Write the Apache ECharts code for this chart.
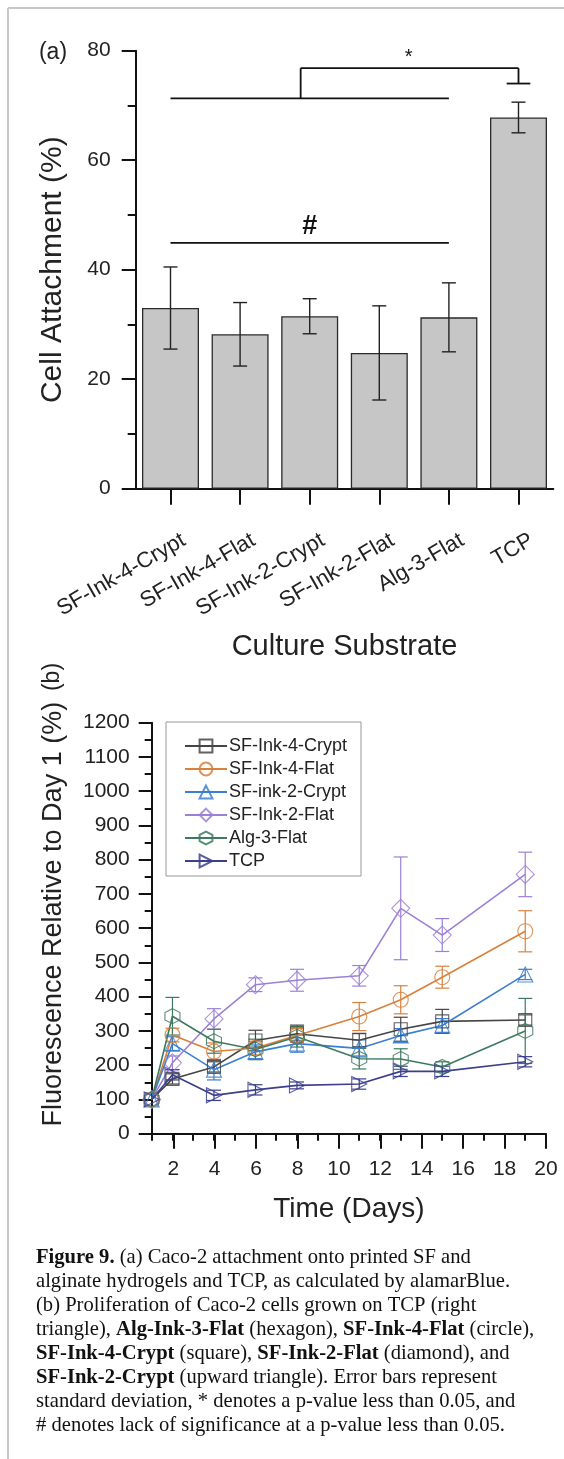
<!DOCTYPE html>
<html>
<head>
<meta charset="utf-8">
<script src="https://cdn.jsdelivr.net/npm/echarts@6/dist/echarts.min.js"></script>
<style>
  html, body { margin: 0; padding: 0; background: #fff; }
  #main { width: 564px; height: 1459px; }
</style>
</head>
<body>
<div id="main"></div>
<script>
// panel (a) - cell attachment
var substrates = ['SF-Ink-4-Crypt', 'SF-Ink-4-Flat', 'SF-Ink-2-Crypt', 'SF-Ink-2-Flat', 'Alg-3-Flat', 'TCP'];
var attachment = [33.0, 28.2, 31.5, 24.8, 31.3, 67.8];
var attachmentSd = [7.5, 5.8, 3.2, 8.6, 6.3, 2.8];
var attachTicks = [0, 20, 40, 60, 80];

// significance brackets: [cat1, val1, cat2, val2]
var sigSegments = [
  [0, 71.3, 4, 71.3],
  [1.87, 71.3, 1.87, 76.8],
  [1.87, 76.8, 5, 76.8],
  [5, 76.8, 5, 74.0],
  [4.83, 74.0, 5.17, 74.0],
  [0, 44.9, 4, 44.9]
];
var sigMarks = [['*', 3.42, 78.8], ['#', 2.0, 47.9]];

// panel (b) - proliferation
var days = [1, 2, 4, 6, 8, 11, 13, 15, 19];
var sfInk4Crypt = [100, 160, 195, 272, 292, 273, 305, 328, 332];
var sfInk4CryptSd = [0, 15, 15, 30, 25, 20, 35, 35, 15];
var sfInk4Flat = [100, 288, 240, 250, 287, 342, 391, 457, 591];
var sfInk4FlatSd = [0, 20, 25, 20, 20, 41, 41, 32, 60];
var sfInk2Crypt = [100, 263, 187, 239, 263, 249, 287, 316, 465];
var sfInk2CryptSd = [0, 20, 30, 20, 25, 25, 20, 20, 15];
var sfInk2Flat = [100, 207, 335, 435, 448, 461, 658, 580, 757];
var sfInk2FlatSd = [0, 20, 30, 20, 32, 30, 150, 48, 65];
var alg3Flat = [100, 343, 270, 246, 283, 219, 218, 195, 300];
var alg3FlatSd = [0, 55, 35, 30, 30, 30, 30, 15, 95];
var tcp = [100, 172, 112, 128, 141, 145, 182, 182, 210];
var tcpSd = [0, 15, 15, 15, 10, 15, 15, 15, 15];

var captionLines = [
  '{b|Figure 9.} (a) Caco-2 attachment onto printed SF and',
  'alginate hydrogels and TCP, as calculated by alamarBlue.',
  '(b) Proliferation of Caco-2 cells grown on TCP (right',
  'triangle), {b|Alg-Ink-3-Flat} (hexagon), {b|SF-Ink-4-Flat} (circle),',
  '{b|SF-Ink-4-Crypt} (square), {b|SF-Ink-2-Flat} (diamond), and',
  '{b|SF-Ink-2-Crypt} (upward triangle). Error bars represent',
  'standard deviation, * denotes a p-value less than 0.05, and',
  '# denotes lack of significance at a p-value less than 0.05.'
];

var FONT = 'Liberation Sans, Arial, sans-serif';
var SERIF = 'Liberation Serif, Times New Roman, serif';

var hexagon = 'path://M5,0 L9.33,2.5 L9.33,7.5 L5,10 L0.67,7.5 L0.67,2.5 Z';
var rightTri = 'path://M0,0 L10,5 L0,10 Z';

var lines = [
  { name: 'SF-Ink-4-Crypt', v: sfInk4Crypt, sd: sfInk4CryptSd, color: '#454545', symbol: 'rect', size: 13 },
  { name: 'SF-Ink-4-Flat', v: sfInk4Flat, sd: sfInk4FlatSd, color: '#d9803c', symbol: 'circle', size: 15 },
  { name: 'SF-ink-2-Crypt', v: sfInk2Crypt, sd: sfInk2CryptSd, color: '#3b7fcf', symbol: 'triangle', size: 15 },
  { name: 'SF-Ink-2-Flat', v: sfInk2Flat, sd: sfInk2FlatSd, color: '#9b80d6', symbol: 'diamond', size: 18 },
  { name: 'Alg-3-Flat', v: alg3Flat, sd: alg3FlatSd, color: '#3e7a5f', symbol: hexagon, size: 15 },
  { name: 'TCP', v: tcp, sd: tcpSd, color: '#3c3f8e', symbol: rightTri, size: 15 }
];

function errRender(color, cap, width) {
  return function (params, api) {
    var x = api.value(0), y = api.value(1), sd = api.value(2);
    if (!sd) return;
    var hi = api.coord([x, y + sd]);
    var lo = api.coord([x, y - sd]);
    var st = { stroke: color, lineWidth: width };
    return {
      type: 'group',
      children: [
        { type: 'line', shape: { x1: hi[0], y1: hi[1], x2: lo[0], y2: lo[1] }, style: st },
        { type: 'line', shape: { x1: hi[0] - cap, y1: hi[1], x2: hi[0] + cap, y2: hi[1] }, style: st },
        { type: 'line', shape: { x1: lo[0] - cap, y1: lo[1], x2: lo[0] + cap, y2: lo[1] }, style: st }
      ]
    };
  };
}

function sigRender(params, api) {
  function px(c, v) {
    var a = api.coord([0, v]), b = api.coord([1, v]);
    return [a[0] + c * (b[0] - a[0]), a[1]];
  }
  var children = [];
  sigSegments.forEach(function (s) {
    var p1 = px(s[0], s[1]), p2 = px(s[2], s[3]);
    children.push({ type: 'line', shape: { x1: p1[0], y1: p1[1], x2: p2[0], y2: p2[1] },
      style: { stroke: '#111', lineWidth: 1.8 } });
  });
  sigMarks.forEach(function (m) {
    var p = px(m[1], m[2]);
    children.push({ type: 'text', x: p[0], y: p[1],
      style: { text: m[0], fill: '#111', font: (m[0] === '#' ? 'bold 27px ' : '20px ') + FONT,
        align: 'center', verticalAlign: 'middle' } });
  });
  return { type: 'group', children: children };
}

var series = [];
series.push({
  type: 'bar', xAxisIndex: 0, yAxisIndex: 0, data: attachment, barWidth: 57,
  itemStyle: { color: '#c6c6c6', borderColor: '#2a2a2a', borderWidth: 1.3 },
  z: 2
});
series.push({
  type: 'custom', xAxisIndex: 0, yAxisIndex: 0,
  data: attachment.map(function (v, i) { return [i, v, attachmentSd[i]]; }),
  renderItem: errRender('#222', 7, 1.4), z: 3
});
series.push({
  type: 'custom', xAxisIndex: 0, yAxisIndex: 0, data: [[0, 0]],
  renderItem: sigRender, z: 3
});

lines.forEach(function (s) {
  series.push({
    type: 'custom', xAxisIndex: 1, yAxisIndex: 1,
    data: days.map(function (d, i) { return [d, s.v[i], s.sd[i]]; }),
    renderItem: errRender(s.color, 7, 1.2), z: 2
  });
});
lines.forEach(function (s) {
  series.push({
    name: s.name, type: 'line', xAxisIndex: 1, yAxisIndex: 1,
    data: days.map(function (d, i) { return [d, s.v[i]]; }),
    symbol: s.symbol, symbolSize: s.size, showAllSymbol: true,
    lineStyle: { color: s.color, width: 1.6 },
    itemStyle: { color: 'rgba(255,255,255,0)', borderColor: s.color, borderWidth: 1.1, opacity: 0.85 },
    z: 3
  });
});

var axisLineStyle = { show: true, lineStyle: { color: '#111', width: 2 } };
var tickStyle = { lineStyle: { color: '#111', width: 2 } };
var plain = function (v) { return String(v); };

var graphics = [
  { type: 'line', shape: { x1: 8, y1: 8, x2: 564, y2: 8 }, style: { stroke: '#c8c8c8', lineWidth: 2 } },
  { type: 'line', shape: { x1: 8, y1: 8, x2: 8, y2: 1459 }, style: { stroke: '#c8c8c8', lineWidth: 2 } },
  { type: 'text', x: 53, y: 53, style: { text: '(a)', font: '23px ' + FONT, fill: '#222', align: 'center', verticalAlign: 'middle' } },
  { type: 'text', x: 53, y: 677, rotation: Math.PI / 2, style: { text: '(b)', font: '23px ' + FONT, fill: '#222', align: 'center', verticalAlign: 'middle' } }
];
captionLines.forEach(function (t, i) {
  graphics.push({
    type: 'text', left: 36, top: 1247 + i * 24.05,
    style: {
      text: t, font: '20.6px ' + SERIF, fill: '#111',
      rich: { b: { fontFamily: SERIF, fontSize: 20.6, fontWeight: 'bold', fill: '#111' } }
    }
  });
});

var chart = echarts.init(document.getElementById('main'), null, { renderer: 'canvas' });
chart.setOption({
  backgroundColor: '#ffffff',
  animation: false,
  textStyle: { fontFamily: FONT },
  grid: [
    { left: 135.7, top: 50.7, width: 417.6, height: 438 },
    { left: 151.7, top: 722.7, width: 394.3, height: 411 },
    { left: 173.3, top: 722.7, width: 372.7, height: 411 }
  ],
  xAxis: [
    {
      gridIndex: 0, type: 'category', data: substrates,
      name: 'Culture Substrate', nameLocation: 'middle', nameGap: 144,
      nameTextStyle: { fontSize: 29, color: '#222', fontFamily: FONT },
      axisLine: axisLineStyle,
      axisTick: { show: true, alignWithLabel: true, length: 16, lineStyle: tickStyle.lineStyle },
      axisLabel: { rotate: 30, fontSize: 22, color: '#222', margin: 45, interval: 0,
        verticalAlign: 'top', padding: [0, -9, 0, 0] }
    },
    {
      gridIndex: 1, type: 'value', min: 1, max: 20, interval: 1,
      name: 'Time (Days)', nameLocation: 'middle', nameGap: 62,
      nameTextStyle: { fontSize: 28, color: '#222', fontFamily: FONT },
      axisLine: axisLineStyle,
      axisTick: { show: true, length: 7, lineStyle: tickStyle.lineStyle },
      axisLabel: { show: false },
      splitLine: { show: false }
    },
    {
      gridIndex: 2, type: 'value', min: 2, max: 20, interval: 2,
      axisLine: { show: false },
      axisTick: { show: true, length: 15, lineStyle: tickStyle.lineStyle },
      axisLabel: { fontSize: 21, color: '#222', margin: 25 },
      splitLine: { show: false }
    }
  ],
  yAxis: [
    {
      gridIndex: 0, type: 'value', min: attachTicks[0], max: attachTicks[attachTicks.length - 1], interval: 20,
      name: 'Cell Attachment (%)', nameLocation: 'middle', nameGap: 68,
      nameTextStyle: { fontSize: 30, color: '#222', fontFamily: FONT },
      axisLine: axisLineStyle,
      axisTick: { show: true, length: 14, lineStyle: tickStyle.lineStyle },
      minorTick: { show: true, splitNumber: 2, length: 8, lineStyle: { color: '#111', width: 2 } },
      axisLabel: { fontSize: 21, color: '#222', margin: 25, formatter: plain },
      splitLine: { show: false }
    },
    {
      gridIndex: 1, type: 'value', min: 0, max: 1200, interval: 100,
      name: 'Fluorescence Relative to Day 1 (%)', nameLocation: 'middle', nameGap: 85,
      nameTextStyle: { fontSize: 27, color: '#222', fontFamily: FONT, padding: [0, 0, 0, 28] },
      axisLine: axisLineStyle,
      axisTick: { show: true, length: 13, lineStyle: tickStyle.lineStyle },
      minorTick: { show: true, splitNumber: 2, length: 7, lineStyle: { color: '#111', width: 2 } },
      axisLabel: { fontSize: 21, color: '#222', margin: 22, formatter: plain },
      splitLine: { show: false }
    },
    { gridIndex: 2, type: 'value', min: 0, max: 1200, show: false }
  ],
  legend: {
    data: lines.map(function (s) { return s.name; }),
    orient: 'vertical', left: 166, top: 722,
    padding: [15, 14, 6, 18], itemGap: 5, itemWidth: 42, itemHeight: 16,
    borderColor: '#999', borderWidth: 1,
    textStyle: { fontSize: 18, color: '#222', fontFamily: FONT, padding: [0, 0, 0, -3] },
    selectedMode: false
  },
  graphic: graphics,
  series: series
});
</script>
</body>
</html>
